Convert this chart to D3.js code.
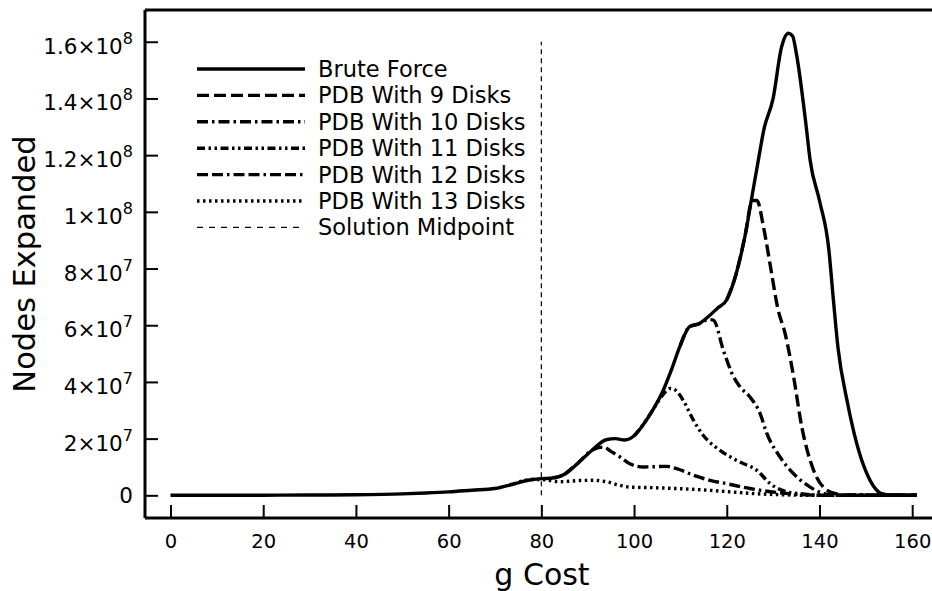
<!DOCTYPE html>
<html>
<head>
<meta charset="utf-8">
<script src="https://cdn.jsdelivr.net/npm/d3@7"></script>
<style>
body{margin:0;background:#fff;}
svg{display:block;}
</style>
</head>
<body>
<svg id="chart" width="932" height="591"></svg>
<script>
// g cost / nodes expanded (millions)
var bruteG   = [0,10,20,30,40,50,55,60,65,70,74,78,80,82,85,88,91,94,96,98,100,102,104,106,108,110,112,114,116,118,120,122,124,125.5,127,128,130,131.8,133.3,134.2,135,137,138,140,142,143,144,146,148,150,151,153.4,156,161];
var bruteV   = [0,0,0.05,0.1,0.2,0.5,0.8,1.2,1.8,2.4,4,5.6,5.9,6,7.4,11.5,16,19.6,20,19.5,21,25,30,36,44,53,59.5,60.5,63,66,69,78,92,106,120,129,140,158,163,162,156,132,118,104,87,69,52,33,18.5,8.5,5,0.6,0,0];
var pdb9G    = [120,122,124,125.5,126.5,128,129.7,131,132.6,134.4,136.2,138.7,141.6,143.7,146,161];
var pdb9V    = [69,78,92,104,104,94,78,66,57,42,24,9,1.8,0.5,0,0];
var pdb10G   = [110,112,114,116,117.1,119.3,121.4,123,125,127.2,128.6,131.5,135.1,138,141,144,161];
var pdb10V   = [53,59.5,60.5,62,61.8,51,42,38,34.7,28.8,22,13.5,6.5,2.9,0.6,0,0];
var pdb11G   = [100,102,104,106,107.8,109,110.6,112.8,115,118,122.5,126.5,129.4,133,136.5,140,161];
var pdb11V   = [21,25,30,35,37.7,37,33.5,26.5,21,16.5,12,8.8,4.1,1.2,0.5,0,0];
var pdb12G   = [85,88,91,93.4,95,97,99,102,107,109.2,112.8,116.4,120,125,132,138,142,161];
var pdb12V   = [7.4,11.5,16,17,15.5,13.5,11.2,10,10.2,9.4,7.1,5.3,4.1,2.4,0.8,0.1,0,0];
var pdb13G   = [74,78,80,84,88,91,94,97,99,104,109,116,121,126,132,138,161];
var pdb13V   = [4,5.6,5.6,4.8,5.2,5.3,4.8,3.5,2.9,2.7,2.4,1.8,1.2,0.6,0.2,0,0];
var seriesNames = ['Brute Force','PDB With 9 Disks','PDB With 10 Disks','PDB With 11 Disks','PDB With 12 Disks','PDB With 13 Disks','Solution Midpoint'];
var xTicks = [0,20,40,60,80,100,120,140,160];
var yTicks = [0,2e7,4e7,6e7,8e7,1e8,1.2e8,1.4e8,1.6e8];
var midpointG = 80;

var svg = d3.select('#chart');
var x = d3.scaleLinear().domain([-5.5,166]).range([145,940]);
var y = d3.scaleLinear().domain([-8e6,1.712e8]).range([518,10]);
var font = 'DejaVu Sans, sans-serif';

function pts(gs,vs){ return gs.map(function(g,i){ return [g, vs[i]*1e6]; }); }

var styles = [
	{data:pts(bruteG,bruteV), dash:null},
	{data:pts(pdb9G,pdb9V), dash:'12,5'},
	{data:pts(pdb10G,pdb10V), dash:'11,4,2.5,4'},
	{data:pts(pdb11G,pdb11V), dash:'8,3.5,2.5,3.5,2.5,3.5'},
	{data:pts(pdb12G,pdb12V), dash:'11,4,11,4,2.5,4'},
	{data:pts(pdb13G,pdb13V), dash:'2.5,3.5'}
];

var line = d3.line()
	.x(function(d){ return x(d[0]); })
	.y(function(d){ return y(d[1]); })
	.curve(d3.curveMonotoneX);

// frame: top line
svg.append('line').attr('x1',145).attr('x2',932).attr('y1',10).attr('y2',10)
	.attr('stroke','#000').attr('stroke-width',3);

// axes (ticks point inward)
var minorX = d3.range(5,166,5).filter(function(v){ return v%20!==0; });
var minorY = d3.range(-5e6,1.71e8,5e6).filter(function(v){ return Math.round(v/1e6)%20!==0; });

var gx = svg.append('g').attr('transform','translate(0,518)');
gx.call(d3.axisBottom(x).tickValues(minorX).tickSize(-7).tickFormat(''));
gx.call(d3.axisBottom(x).tickValues(xTicks).tickSize(-13).tickPadding(30)
	.tickFormat(function(d){ return d; }));
gx.select('.domain').attr('stroke-width',3).attr('d','M145,0H932');
gx.selectAll('.tick line').attr('stroke-width',2);
gx.selectAll('text').attr('font-family',font).attr('font-size',19.5)
	.attr('fill','#000').attr('dy',0);

var gy = svg.append('g').attr('transform','translate(145,0)');
gy.call(d3.axisLeft(y).tickValues(minorY).tickSize(-7).tickFormat(''));
gy.call(d3.axisLeft(y).tickValues(yTicks).tickSize(-13).tickFormat(''));
gy.select('.domain').attr('stroke-width',3).attr('d','M0,10V518');
gy.selectAll('.tick line').attr('stroke-width',2);

// y tick labels with superscript exponents
yTicks.forEach(function(v){
	var t = svg.append('text').attr('x',133).attr('text-anchor','end')
		.attr('font-family',font).attr('font-size',21.5);
	if(v===0){
		t.attr('y',y(v)+8).text('0');
		return;
	}
	var e = Math.floor(Math.log10(v)+1e-9);
	var m = +(v/Math.pow(10,e)).toFixed(1);
	t.attr('y',y(v)+12);
	t.append('tspan').text(m+'\u00d710');
	t.append('tspan').attr('dy',-10).attr('font-size',16).text(e);
});

// solution midpoint
svg.append('line')
	.attr('x1',x(midpointG)).attr('x2',x(midpointG))
	.attr('y1',y(0)).attr('y2',y(1.6e8))
	.attr('stroke','#000').attr('stroke-width',1.2).attr('stroke-dasharray','5,4');

// curves, brute force drawn last so it stays on top
styles.slice().reverse().forEach(function(s){
	svg.append('path').datum(s.data)
		.attr('d',line).attr('fill','none').attr('stroke','#000')
		.attr('stroke-width',3.4)
		.attr('stroke-dasharray',s.dash);
});

// legend
var leg = svg.append('g');
seriesNames.forEach(function(name,i){
	var ly = 69 + i*26.4;
	var isMid = i===6;
	leg.append('line').attr('x1',197).attr('x2',305).attr('y1',ly).attr('y2',ly)
		.attr('stroke','#000')
		.attr('stroke-width',isMid?1.2:3.4)
		.attr('stroke-dasharray',isMid?'6,6':styles[i].dash);
	leg.append('text').attr('x',318).attr('y',ly+8)
		.attr('font-family',font).attr('font-size',22.5)
		.text(name);
});

// axis titles
svg.append('text').attr('x',542).attr('y',585).attr('text-anchor','middle')
	.attr('font-family',font).attr('font-size',30).text('g Cost');
svg.append('text').attr('transform','translate(35,264) rotate(-90)').attr('text-anchor','middle')
	.attr('font-family',font).attr('font-size',30.5).text('Nodes Expanded');
</script>
</body>
</html>
